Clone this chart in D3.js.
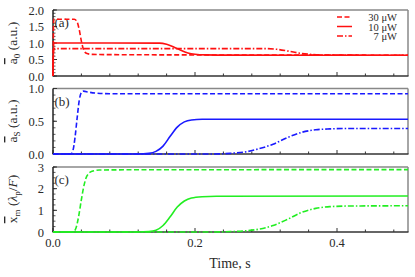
<!DOCTYPE html>
<html><head><meta charset="utf-8">
<script src="https://cdn.jsdelivr.net/npm/d3@7"></script>
<style>body{margin:0;background:#fff}svg{display:block}</style>
</head><body><svg id="c" width="415" height="277" font-family="'Liberation Serif', 'Times New Roman', serif"></svg>
<script>
const powers = ["30 \u03bcW", "10 \u03bcW", "7 \u03bcW"];
const xTicks = [0.0, 0.2, 0.4];
// panel (a): a0
const a30 = [[0,0],[0.001,1.72],[0.03,1.72],[0.034,1.64],[0.037,1.4],[0.040,1.05],[0.043,0.8],[0.047,0.69],[0.055,0.655],[0.1,0.645],[0.3,0.635],[0.5,0.63]];
const a10 = [[0,0],[0.001,1.0],[0.15,0.995],[0.16,0.96],[0.17,0.88],[0.18,0.78],[0.19,0.70],[0.2,0.66],[0.215,0.64],[0.25,0.632],[0.5,0.63]];
const a7  = [[0,0],[0.001,0.83],[0.3,0.83],[0.315,0.81],[0.33,0.76],[0.345,0.70],[0.36,0.66],[0.375,0.64],[0.4,0.632],[0.5,0.63]];
// panel (b): aS
const b30 = [[0,0],[0.025,0],[0.028,0.05],[0.031,0.25],[0.034,0.55],[0.037,0.82],[0.040,0.94],[0.043,0.96],[0.05,0.945],[0.06,0.93],[0.08,0.92],[0.5,0.92]];
const b10 = [[0,0],[0.12,0],[0.135,0.01],[0.145,0.04],[0.155,0.12],[0.165,0.27],[0.175,0.41],[0.185,0.49],[0.195,0.52],[0.21,0.53],[0.5,0.53]];
const b7  = [[0,0],[0.22,0],[0.25,0.01],[0.27,0.03],[0.29,0.08],[0.31,0.15],[0.33,0.25],[0.35,0.33],[0.37,0.37],[0.39,0.383],[0.42,0.39],[0.5,0.39]];
// panel (c): xm
const c30 = [[0,0],[0.028,0],[0.032,0.15],[0.036,0.7],[0.040,1.5],[0.044,2.2],[0.048,2.6],[0.055,2.8],[0.065,2.86],[0.1,2.87],[0.5,2.88]];
const c10 = [[0,0],[0.12,0],[0.135,0.02],[0.145,0.08],[0.155,0.3],[0.165,0.7],[0.175,1.15],[0.185,1.43],[0.195,1.57],[0.21,1.63],[0.23,1.65],[0.5,1.66]];
const c7  = [[0,0],[0.22,0],[0.25,0.02],[0.27,0.05],[0.29,0.13],[0.31,0.3],[0.33,0.58],[0.35,0.9],[0.37,1.09],[0.39,1.17],[0.42,1.2],[0.5,1.21]];

const panels = [
  {id:"(a)", top:10, bottom:76, ymax:2.0, ticks:[0,0.5,1.0,1.5,2.0], fmt:d3.format(".1f"), minor:0.1, color:"#ff1010", series:[a30,a10,a7], legend:true},
  {id:"(b)", top:88.5, bottom:154, ymax:1.0, ticks:[0,0.5,1.0], fmt:d3.format(".1f"), minor:0.1, color:"#1a1aff", series:[b30,b10,b7]},
  {id:"(c)", top:167, bottom:232, ymax:3, ticks:[0,1,2,3], fmt:d3.format("d"), minor:0.25, color:"#22ee22", series:[c30,c10,c7], xlabels:true}
];
const dashes = ["5,2.5", null, "6,2,1.5,2"];
const svg = d3.select("#c");
const TXT = "#2a2a2a";
const x = d3.scaleLinear().domain([0,0.5]).range([53,408]);
const minorX = d3.range(0,0.5001,0.04);

panels.forEach(p=>{
  const y = d3.scaleLinear().domain([0,p.ymax]).range([p.bottom,p.top]);
  const g = svg.append("g");
  g.append("line").attr("x1",53).attr("x2",408).attr("y1",p.top).attr("y2",p.top).attr("stroke","#888").attr("stroke-width",1.5);
  g.append("line").attr("x1",408).attr("x2",408).attr("y1",p.top).attr("y2",p.bottom).attr("stroke","#888").attr("stroke-width",1.5);
  minorX.forEach(t=>{
    const maj = Math.abs(t/0.2 - Math.round(t/0.2))<1e-6;
    g.append("line").attr("x1",x(t)).attr("x2",x(t)).attr("y1",p.bottom).attr("y2",p.bottom-(maj?4:2.5)).attr("stroke","#333").attr("stroke-width",1);
  });
  g.append("line").attr("x1",52.5).attr("x2",408.5).attr("y1",p.bottom).attr("y2",p.bottom).attr("stroke","#333").attr("stroke-width",1.5);
  d3.range(0,p.ymax+1e-6,p.minor).forEach(v=>{
    g.append("line").attr("x1",53).attr("x2",55.5).attr("y1",y(v)).attr("y2",y(v)).attr("stroke","#333").attr("stroke-width",0.8);
  });
  p.ticks.forEach(v=>{
    g.append("line").attr("x1",53).attr("x2",57).attr("y1",y(v)).attr("y2",y(v)).attr("stroke","#333").attr("stroke-width",1);
    g.append("text").attr("x",44).attr("y",y(v)+4.5).attr("text-anchor","end").attr("font-size",12.5).attr("fill",TXT).text(p.fmt(v));
  });
  g.append("line").attr("x1",53).attr("x2",53).attr("y1",p.top).attr("y2",p.bottom).attr("stroke","#222").attr("stroke-width",1.5);
  g.append("text").attr("x",54.5).attr("y",p.top+17).attr("font-size",13).attr("fill",TXT).text(p.id);
  const line = d3.line().x(d=>x(d[0])).y(d=>y(d[1])).curve(d3.curveMonotoneX);
  p.series.forEach((s,i)=>{
    g.append("path").attr("d",line(s)).attr("fill","none").attr("stroke",p.color).attr("stroke-width",1.6)
      .attr("stroke-dasharray",dashes[i]);
  });
  if(p.xlabels){
    xTicks.forEach(t=>{
      g.append("text").attr("x",x(t)).attr("y",p.bottom+14.5).attr("text-anchor","middle").attr("font-size",12.5).attr("fill",TXT).text(d3.format(".1f")(t));
    });
  }
  if(p.legend){
    powers.forEach((lab,i)=>{
      const by = 21 + i*9.5;
      g.append("line").attr("x1",337).attr("x2",352).attr("y1",by-4).attr("y2",by-4).attr("stroke",p.color).attr("stroke-width",1.5).attr("stroke-dasharray",dashes[i]);
      g.append("text").attr("x",397).attr("y",by).attr("text-anchor","end").attr("font-size",10.5).attr("fill",TXT).text(lab);
    });
  }
});

function ytitle(cy, build){
  const t = svg.append("text").attr("transform",`translate(17,${cy}) rotate(-90)`).attr("text-anchor","middle").attr("font-size",13.5).attr("fill",TXT);
  build(t);
}
ytitle(43, t=>{
  t.append("tspan").attr("text-decoration","overline").text("a");
  t.append("tspan").attr("font-size",9).attr("dy",3).text("0");
  t.append("tspan").attr("dy",-3).text(" (a.u.)");
});
ytitle(121, t=>{
  t.append("tspan").attr("text-decoration","overline").text("a");
  t.append("tspan").attr("font-size",9).attr("dy",3).text("S");
  t.append("tspan").attr("dy",-3).text(" (a.u.)");
});
ytitle(199, t=>{
  t.append("tspan").attr("text-decoration","overline").text("x");
  t.append("tspan").attr("font-size",9).attr("dy",3).text("m");
  t.append("tspan").attr("dy",-3).text(" (");
  t.append("tspan").attr("font-style","italic").text("\u03bb");
  t.append("tspan").attr("font-size",9).attr("dy",3).text("p");
  t.append("tspan").attr("dy",-3).text("/");
  t.append("tspan").attr("font-style","italic").text("F");
  t.append("tspan").text(")");
});
svg.append("text").attr("x",230).attr("y",268).attr("text-anchor","middle").attr("font-size",14).attr("fill",TXT).text("Time, s");
</script></body></html>
